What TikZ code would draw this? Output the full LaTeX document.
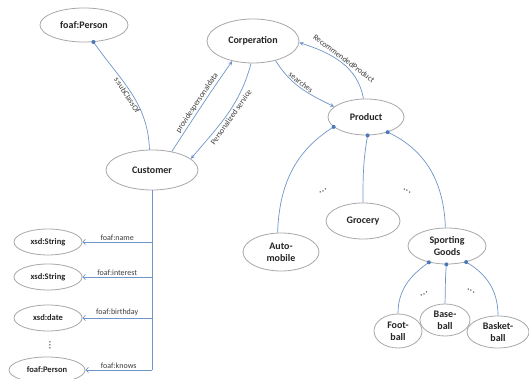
\documentclass[tikz,border=0pt]{standalone}
\usepackage{fontspec}
\setmainfont{Carlito}
\usetikzlibrary{shapes.geometric,arrows.meta}
\definecolor{edgeblue}{HTML}{6F96C8}
\definecolor{dotblue}{HTML}{4A78B8}
\definecolor{rim}{HTML}{A8A8A8}
\definecolor{ink}{HTML}{262626}
\definecolor{lbl}{HTML}{3C3C3C}
\newcommand{\threedots}{{.}\kern0.6pt{.}\kern0.6pt{.}}

\begin{document}
\begin{tikzpicture}[x=1pt,y=1pt,
  concept/.style={ellipse, draw=rim, line width=0.8pt, fill=white, inner sep=0pt,
    font=\bfseries\fontsize{10}{12}\selectfont, text=ink, align=center},
  smallconcept/.style={concept, font=\bfseries\fontsize{8.5}{10}\selectfont},
  rel/.style={draw=edgeblue, line width=0.7pt},
  tipend/.style={arrows={-Stealth[length=4.2pt,width=3.8pt]}},
  barbend/.style={arrows={-Straight Barb[length=2.6pt,width=5.5pt]}},
  knob/.style={fill=dotblue},
  lab/.style={font=\fontsize{8}{9.5}\selectfont, text=lbl, inner sep=1.5pt},
  ellips/.style={font=\bfseries\fontsize{9}{10}\selectfont, text=lbl, inner sep=0pt}
]
\useasboundingbox[fill=white] (0,0) rectangle (529,379);

% concepts
\node[concept, minimum width=88, minimum height=34] (fp1) at (84,354) {foaf:Person};
\node[concept, minimum width=92, minimum height=44] (corp) at (253,338) {Corperation};
\node[concept, minimum width=76, minimum height=36] (prod) at (366,262) {Product};
\node[concept, minimum width=92, minimum height=40] (cust) at (152,209) {Customer};

% literal / range nodes on the left
\node[smallconcept, minimum width=68, minimum height=26] (s1) at (48,137) {xsd:String};
\node[smallconcept, minimum width=68, minimum height=26] (s2) at (48,102) {xsd:String};
\node[smallconcept, minimum width=68, minimum height=26] (dt) at (48,61) {xsd:date};
\node[smallconcept, minimum width=76, minimum height=26] (fp2) at (47,9) {foaf:Person};
\node[ellips, rotate=90] (vd) at (50,34) {\threedots};

% product categories
\node[concept, minimum width=76, minimum height=38] (auto) at (281,127) {Auto-\\mobile};
\node[concept, minimum width=74, minimum height=36] (groc) at (363,158) {Grocery};
\node[concept, minimum width=78, minimum height=36] (sport) at (447,133) {Sporting\\Goods};
\node[concept, minimum width=48, minimum height=34] (foot) at (398,48) {Foot-\\ball};
\node[concept, minimum width=50, minimum height=32] (base) at (445,59) {Base-\\ball};
\node[concept, minimum width=62, minimum height=32] (bask) at (498,47) {Basket-\\ball};

% relations among the main concepts
\draw[rel] (cust.97) to[out=92, in=-55]
  node[lab, sloped, below, pos=0.5] {s:subClassOf} (fp1.299);
\fill[knob] (fp1.299) circle (2pt);
\draw[rel, tipend] (cust.43) to[out=57, in=-125]
  node[lab, sloped, above, pos=0.5] {providespersonaldata} (corp.224);
\draw[rel, tipend] (corp.265) to[out=-105, in=50]
  node[lab, sloped, below, pos=0.5] {Personalized service} (cust.16);
\draw[rel, tipend] (corp.319) to[out=-58, in=154]
  node[lab, sloped, above, pos=0.45] {searches} (prod.162);
\draw[rel, tipend] (prod.98) to[out=100, in=-18]
  node[lab, sloped, above, pos=0.5] {RecommendedProduct} (corp.358);

% customer properties
\draw[rel] (cust.south) -- (cust.south |- fp2.east);
\draw[rel, barbend] (cust.south |- s1.east) -- node[lab, above] {foaf:name} (s1.east);
\draw[rel, barbend] (cust.south |- s2.east) -- node[lab, above] {foaf:interest} (s2.east);
\draw[rel, barbend] (cust.south |- dt.east) -- node[lab, above] {foaf:birthday} (dt.east);
\draw[rel, barbend] (cust.south |- fp2.east) -- node[lab, above] {foaf:knows} (fp2.east);

% product hierarchy
\draw[rel] (prod.197) to[out=212, in=88] (auto.100);
\draw[rel] (prod.275) to[out=-100, in=90] (groc.north);
\draw[rel] (prod.325) to[out=-25, in=92] (sport.95);
\foreach \a in {197,275,325} \fill[knob] (prod.\a) circle (2pt);
\node[ellips, rotate=30] (e1) at (323,188) {\threedots};
\node[ellips, rotate=-30] (e2) at (407,188) {\threedots};

\draw[rel] (sport.222) to[out=215, in=90] (foot.north);
\draw[rel] (sport.268) to[out=-95, in=88] (base.north);
\draw[rel] (sport.320) to[out=-30, in=90] (bask.north);
\foreach \a in {222,268,320} \fill[knob] (sport.\a) circle (2pt);
\node[ellips, rotate=30] (e3) at (424,85) {\threedots};
\node[ellips, rotate=-30] (e4) at (471,88) {\threedots};
\end{tikzpicture}
\end{document}
